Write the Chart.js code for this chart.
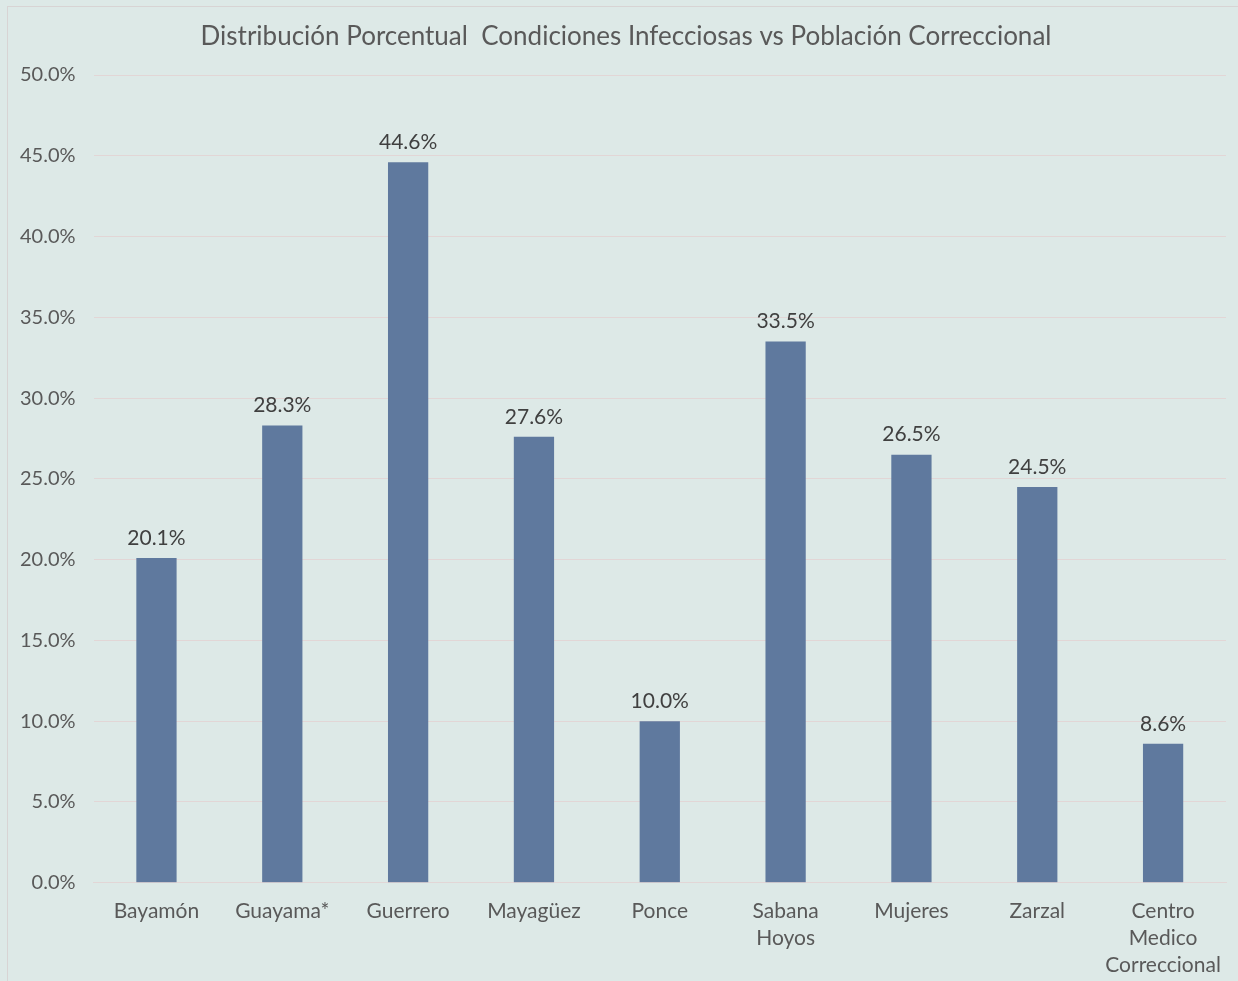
<!DOCTYPE html>
<html>
<head>
<meta charset="utf-8">
<script src="https://cdn.jsdelivr.net/npm/chart.js@4"></script>
<style>
  html, body { margin: 0; padding: 0; background: #dde9e7; overflow: hidden; }
  #wrap { position: absolute; left: 7px; top: 6px; width: 1240px; height: 985px; border: 1px solid #d8d4d4; box-sizing: border-box; }
  #chart { position: absolute; left: 0; top: 0; }
</style>
</head>
<body>
<div id="wrap"></div>
<canvas id="chart" width="1238" height="986"></canvas>
<script>
// datos del grafico
const categorias = ["Bayamón", "Guayama*", "Guerrero", "Mayagüez", "Ponce", ["Sabana", "Hoyos"], "Mujeres", "Zarzal", ["Centro", "Medico", "Correccional"]];
const porcentajes = [20.1, 28.3, 44.6, 27.6, 10.0, 33.5, 26.5, 24.5, 8.6];
const titulo = "Distribución Porcentual  Condiciones Infecciosas vs Población Correccional";

const fuente = "'Lato', 'Open Sans', sans-serif";

// etiquetas encima de cada barra + titulo centrado como en el original
const etiquetasBarras = {
    id: "etiquetasBarras",
    afterDatasetsDraw(chart) {
        const c = chart.ctx;
        const meta = chart.getDatasetMeta(0);
        c.save();
        c.font = "21px " + fuente;
        c.fillStyle = "#404040";
        c.textAlign = "center";
        c.textBaseline = "middle";
        meta.data.forEach((bar, i) => {
            c.fillText(porcentajes[i].toFixed(1) + "%", bar.x, bar.y - 20);
        });
        c.font = "26px " + fuente;
        c.fillStyle = "#595959";
        c.fillText(titulo, 626, 37);
        c.restore();
    }
};

const ctx = document.getElementById("chart").getContext("2d");
new Chart(ctx, {
    type: "bar",
    data: {
        labels: categorias,
        datasets: [{
            data: porcentajes,
            backgroundColor: "#5f799e",
            categoryPercentage: 1,
            barPercentage: 0.32
        }]
    },
    options: {
        responsive: false,
        animation: false,
        layout: { padding: { left: 2, right: 12, top: 75, bottom: 0 } },
        plugins: {
            legend: { display: false },
            tooltip: { enabled: false },
            title: { display: false }
        },
        scales: {
            x: {
                grid: { display: false },
                border: { color: "#e2d6d6" },
                ticks: {
                    color: "#595959",
                    font: { family: fuente, size: 21, lineHeight: 1.29 },
                    maxRotation: 0,
                    autoSkip: false,
                    padding: 7
                }
            },
            y: {
                min: 0,
                max: 50,
                ticks: {
                    stepSize: 5,
                    color: "#595959",
                    font: { family: fuente, size: 20 },
                    padding: 18,
                    callback: v => v.toFixed(1) + "%"
                },
                grid: { color: "#e2d6d6", drawTicks: false },
                border: { display: false }
            }
        }
    },
    plugins: [etiquetasBarras]
});
</script>
</body>
</html>
